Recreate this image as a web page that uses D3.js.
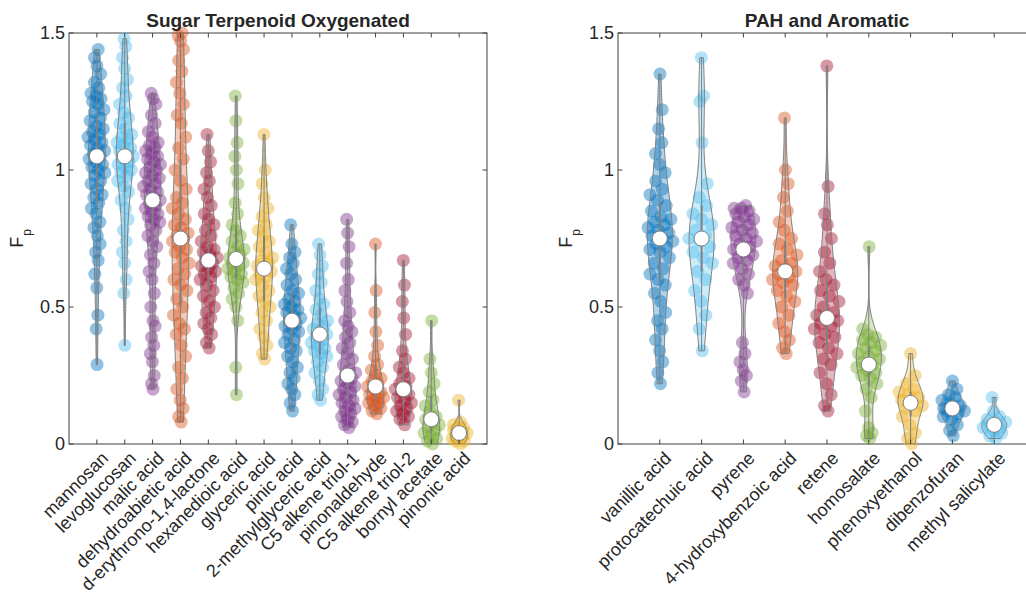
<!DOCTYPE html>
<html>
<head>
<meta charset="utf-8">
<script src="https://cdn.jsdelivr.net/npm/d3@7"></script>
<style>
    body { margin: 0; background: #fff; }
    svg text { font-family: "Liberation Sans", Arial, Helvetica, sans-serif; fill: #262626; }
</style>
</head>
<body>
<svg id="chart" width="1026" height="601"></svg>
<script>
// ===== DATA =====
const sugarNames = ['mannosan', 'levoglucosan', 'malic acid', 'dehydroabietic acid', 'd-erythrono-1,4-lactone',
    'hexanedioic acid', 'glyceric acid', 'pinic acid', '2-methylglyceric acid', 'C5 alkene triol-1',
    'pinonaldehyde', 'C5 alkene triol-2', 'bornyl acetate', 'pinonic acid'];

const mannosan = [0.29,0.42,0.47,0.57,0.62,0.67,0.7,0.73,0.76,0.79,0.81,0.84,0.86,0.88,0.9,0.91,0.93,0.95,0.96,0.98,0.99,1.0,1.01,1.02,1.03,1.04,
    1.05,1.06,1.07,1.08,1.09,1.1,1.11,1.12,1.13,1.14,1.15,1.16,1.18,1.19,1.21,1.22,1.24,1.25,1.26,1.27,1.28,1.3,1.32,1.35,1.38,1.41,1.44];
const levoglucosan = [0.36,0.55,0.6,0.66,0.7,0.74,0.78,0.82,0.86,0.89,0.92,0.94,0.96,0.98,0.99,1.0,1.01,1.02,1.03,1.04,
    1.05,1.06,1.07,1.08,1.09,1.1,1.11,1.12,1.13,1.15,1.17,1.19,1.21,1.24,1.27,1.3,1.33,1.37,1.41,1.45,1.48];
const malicAcid = [0.2,0.22,0.25,0.3,0.33,0.36,0.39,0.43,0.45,0.5,0.55,0.6,0.63,0.66,0.69,0.72,0.74,0.76,0.78,0.8,0.81,0.82,0.83,0.84,0.85,0.86,0.87,0.88,
    0.89,0.9,0.91,0.92,0.93,0.94,0.95,0.96,0.97,0.98,0.99,1.0,1.01,1.02,1.03,1.04,1.05,1.06,1.07,1.08,1.09,1.1,1.12,1.14,1.17,1.2,1.24,1.26,1.28];
const dehydroabieticAcid = [0.08,0.1,0.13,0.16,0.2,0.24,0.28,0.32,0.36,0.4,0.42,0.44,0.47,0.5,0.53,0.56,0.58,0.6,0.62,0.64,0.66,0.68,0.7,0.71,0.72,0.74,
    0.75,0.76,0.77,0.79,0.8,0.82,0.84,0.86,0.88,0.9,0.93,0.96,1.0,1.04,1.08,1.12,1.17,1.2,1.24,1.28,1.32,1.36,1.4,1.44,1.47,1.49,1.5];
const erythronoLactone = [0.35,0.37,0.4,0.42,0.44,0.46,0.48,0.5,0.52,0.54,0.56,0.58,0.6,0.61,0.62,0.63,0.64,0.65,0.66,
    0.67,0.68,0.69,0.7,0.71,0.72,0.74,0.76,0.78,0.8,0.82,0.84,0.87,0.9,0.93,0.96,0.99,1.03,1.07,1.13];
const hexanedioicAcid = [0.18,0.28,0.45,0.5,0.53,0.55,0.57,0.59,0.6,0.61,0.62,0.63,0.64,0.65,0.66,0.66,
    0.67,0.68,0.69,0.7,0.71,0.72,0.74,0.76,0.78,0.8,0.84,0.88,0.95,1.0,1.05,1.1,1.18,1.27];
const glycericAcid = [0.31,0.33,0.36,0.39,0.42,0.45,0.48,0.5,0.52,0.54,0.56,0.58,0.6,0.61,0.62,0.63,
    0.64,0.65,0.66,0.67,0.68,0.7,0.72,0.74,0.76,0.78,0.8,0.83,0.86,0.9,0.95,1.0,1.13];
const pinicAcid = [0.12,0.15,0.18,0.2,0.22,0.24,0.26,0.28,0.3,0.32,0.34,0.35,0.37,0.38,0.4,0.41,0.42,0.43,0.44,
    0.45,0.46,0.47,0.48,0.49,0.5,0.51,0.52,0.53,0.55,0.56,0.58,0.6,0.62,0.64,0.66,0.68,0.7,0.73,0.8];
const methylglycericAcid = [0.16,0.18,0.2,0.23,0.26,0.28,0.3,0.32,0.33,0.34,0.35,0.36,0.37,0.38,0.39,
    0.4,0.41,0.42,0.43,0.44,0.45,0.47,0.49,0.51,0.53,0.56,0.59,0.62,0.65,0.69,0.73];
const alkeneTriol1 = [0.06,0.07,0.08,0.09,0.1,0.11,0.12,0.13,0.14,0.15,0.16,0.17,0.18,0.19,0.2,0.21,0.22,0.23,0.24,
    0.25,0.26,0.27,0.29,0.31,0.33,0.35,0.37,0.39,0.41,0.43,0.45,0.48,0.52,0.56,0.6,0.66,0.72,0.77,0.82];
const pinonaldehyde = [0.11,0.12,0.13,0.14,0.15,0.15,0.16,0.17,0.17,0.18,0.19,0.2,
    0.21,0.22,0.23,0.24,0.25,0.27,0.29,0.32,0.36,0.41,0.48,0.56,0.73];
const alkeneTriol2 = [0.07,0.09,0.1,0.11,0.12,0.13,0.14,0.15,0.16,0.17,0.18,0.19,
    0.2,0.21,0.22,0.24,0.26,0.28,0.31,0.34,0.4,0.46,0.52,0.58,0.67];
const bornylAcetate = [0.0,0.01,0.02,0.03,0.04,0.05,0.06,0.07,0.08,0.09,0.1,0.12,0.14,0.16,0.19,0.22,0.26,0.31,0.45];
const pinonicAcid = [0.0,0.01,0.01,0.02,0.02,0.03,0.03,0.04,0.05,0.05,0.06,0.06,0.07,0.08,0.16];

const pahNames = ['vanillic acid', 'protocatechuic acid', 'pyrene', '4-hydroxybenzoic acid', 'retene',
    'homosalate', 'phenoxyethanol', 'dibenzofuran', 'methyl salicylate'];

const vanillicAcid = [0.22,0.26,0.3,0.34,0.38,0.42,0.45,0.48,0.52,0.55,0.58,0.6,0.62,0.64,0.66,0.68,0.7,0.71,0.72,0.73,0.74,
    0.75,0.76,0.77,0.78,0.79,0.8,0.81,0.82,0.83,0.85,0.87,0.89,0.91,0.93,0.96,0.99,1.02,1.06,1.1,1.15,1.22,1.35];
const protocatechuicAcid = [0.34,0.42,0.47,0.52,0.56,0.6,0.63,0.66,0.68,0.7,0.72,0.74,
    0.75,0.76,0.78,0.8,0.82,0.84,0.87,0.9,0.95,1.1,1.25,1.27,1.41];
const pyrene = [0.19,0.23,0.25,0.27,0.3,0.33,0.37,0.55,0.58,0.6,0.62,0.64,0.66,0.67,0.68,0.69,0.7,
    0.71,0.72,0.73,0.74,0.75,0.76,0.77,0.78,0.79,0.8,0.81,0.82,0.83,0.84,0.85,0.86,0.86,0.87];
const hydroxybenzoicAcid = [0.33,0.35,0.38,0.41,0.44,0.47,0.5,0.52,0.54,0.56,0.58,0.59,0.6,0.61,0.62,
    0.63,0.64,0.65,0.66,0.67,0.69,0.71,0.73,0.75,0.78,0.81,0.85,0.9,0.95,1.0,1.19];
const retene = [0.12,0.14,0.18,0.22,0.26,0.29,0.31,0.33,0.35,0.37,0.39,0.4,0.42,0.43,0.44,0.45,
    0.46,0.47,0.48,0.5,0.52,0.54,0.56,0.58,0.6,0.63,0.66,0.7,0.75,0.8,0.84,0.94,1.38];
const homosalate = [0.02,0.03,0.04,0.06,0.12,0.17,0.2,0.22,0.24,0.25,0.26,0.27,0.28,
    0.29,0.3,0.31,0.32,0.33,0.34,0.35,0.36,0.37,0.38,0.39,0.4,0.42,0.72];
const phenoxyethanol = [0.0,0.02,0.04,0.07,0.1,0.12,0.13,0.14,0.15,0.16,0.17,0.18,0.19,0.2,0.22,0.25,0.33];
const dibenzofuran = [0.03,0.05,0.07,0.09,0.1,0.11,0.12,0.12,0.13,0.13,0.14,0.15,0.16,0.17,0.18,0.2,0.23];
const methylSalicylate = [0.02,0.03,0.04,0.05,0.06,0.06,0.07,0.08,0.08,0.09,0.1,0.12,0.17];

const sugarSeries = [mannosan, levoglucosan, malicAcid, dehydroabieticAcid, erythronoLactone, hexanedioicAcid,
    glycericAcid, pinicAcid, methylglycericAcid, alkeneTriol1, pinonaldehyde, alkeneTriol2, bornylAcetate, pinonicAcid];
const pahSeries = [vanillicAcid, protocatechuicAcid, pyrene, hydroxybenzoicAcid, retene,
    homosalate, phenoxyethanol, dibenzofuran, methylSalicylate];

const yTickValues = [0, 0.5, 1, 1.5];
const yTickLabels = ['0', '0.5', '1', '1.5'];

// MATLAB default colour order (first seven)
const palette = ['#0072BD', '#4DBEEE', '#7E2F8E', '#D95319', '#A2142F', '#77AC30', '#EDB120'];


// ===== LAYOUT =====
const TOP = 33, BOTTOM = 444;
const TICK = 4.5;
const EDGE = '#808080';
const AXIS = '#404040';

const svg = d3.select('#chart');

const panels = [
    { title: 'Sugar Terpenoid Oxygenated', names: sugarNames, series: sugarSeries, left: 69, right: 487 },
    { title: 'PAH and Aromatic', names: pahNames, series: pahSeries, left: 618, right: 1036 },
];


// ===== VIOLIN HELPERS =====
function bandwidth(vals) {
    const med = d3.median(vals);
    let sig = d3.median(vals, v => Math.abs(v - med)) / 0.6745;
    if (!sig) sig = d3.deviation(vals) || 0.01;
    return sig * Math.pow(4 / (3 * vals.length), 0.2);
}

function kde(vals, bw) {
    return t => d3.sum(vals, v => Math.exp(-0.5 * ((t - v) / bw) ** 2));
}


// ===== DRAW =====
panels.forEach((p, pi) => {
    const g = svg.append('g');
    const x = d3.scaleLinear().domain([0, p.names.length + 1]).range([p.left, p.right]);
    const y = d3.scaleLinear().domain([0, 1.5]).range([BOTTOM, TOP]);
    const halfW = 0.3 * (x(1) - x(0));

    const clipId = 'clip' + pi;
    svg.append('clipPath').attr('id', clipId)
        .append('rect')
        .attr('x', p.left).attr('y', TOP)
        .attr('width', p.right - p.left).attr('height', BOTTOM - TOP);

    // Box frame
    g.append('rect')
        .attr('x', p.left).attr('y', TOP)
        .attr('width', p.right - p.left).attr('height', BOTTOM - TOP)
        .attr('fill', 'none')
        .attr('stroke', AXIS)
        .attr('stroke-width', 1);

    p.series.forEach((vals, i) => {
        const pos = x(i + 1);
        const color = palette[i % palette.length];
        const sorted = vals.slice().sort(d3.ascending);
        const bw = bandwidth(sorted);
        const dens = kde(sorted, bw);
        const lo = sorted[0], hi = sorted[sorted.length - 1];
        const grid = d3.range(0, 101).map(k => lo + (hi - lo) * k / 100);
        const dmax = d3.max(grid, dens);
        const widthAt = t => dens(t) / dmax * halfW;

        // Data points, jittered inside the violin
        g.append('g').selectAll('circle')
            .data(vals)
            .enter().append('circle')
            .attr('cx', (v, k) => pos + (((k + 1) * 0.618034) % 1 * 2 - 1) * widthAt(v) * 1.1)
            .attr('cy', v => y(v))
            .attr('r', 6.5)
            .attr('fill', color)
            .attr('fill-opacity', 0.44);

        // Violin outline
        const area = d3.area()
            .y(t => y(t))
            .x0(t => pos - widthAt(t))
            .x1(t => pos + widthAt(t));

        g.append('path')
            .datum(grid)
            .attr('clip-path', `url(#${clipId})`)
            .attr('d', area)
            .attr('fill', color)
            .attr('fill-opacity', 0.3)
            .attr('stroke', EDGE)
            .attr('stroke-width', 1);

        // Whisker and box
        g.append('line')
            .attr('clip-path', `url(#${clipId})`)
            .attr('x1', pos).attr('x2', pos)
            .attr('y1', y(lo)).attr('y2', y(hi))
            .attr('stroke', EDGE)
            .attr('stroke-width', 1);

        g.append('line')
            .attr('x1', pos).attr('x2', pos)
            .attr('y1', y(d3.quantile(sorted, 0.25))).attr('y2', y(d3.quantile(sorted, 0.75)))
            .attr('stroke', EDGE)
            .attr('stroke-width', 2);

        // Median
        g.append('circle')
            .attr('cx', pos)
            .attr('cy', y(d3.median(sorted)))
            .attr('r', 7.5)
            .attr('fill', '#fff')
            .attr('stroke', EDGE)
            .attr('stroke-width', 1);
    });

    // X ticks (bottom + top, pointing inward)
    const xTicks = d3.range(1, p.names.length + 1);
    g.selectAll('.xt-b').data(xTicks).enter().append('line')
        .attr('x1', d => x(d)).attr('x2', d => x(d))
        .attr('y1', BOTTOM).attr('y2', BOTTOM - TICK)
        .attr('stroke', AXIS);
    g.selectAll('.xt-t').data(xTicks).enter().append('line')
        .attr('x1', d => x(d)).attr('x2', d => x(d))
        .attr('y1', TOP).attr('y2', TOP + TICK)
        .attr('stroke', AXIS);

    // Y ticks (left + right)
    g.selectAll('.yt-l').data(yTickValues).enter().append('line')
        .attr('x1', p.left).attr('x2', p.left + TICK)
        .attr('y1', d => y(d)).attr('y2', d => y(d))
        .attr('stroke', AXIS);
    g.selectAll('.yt-r').data(yTickValues).enter().append('line')
        .attr('x1', p.right).attr('x2', p.right - TICK)
        .attr('y1', d => y(d)).attr('y2', d => y(d))
        .attr('stroke', AXIS);

    // Y tick labels
    g.selectAll('.yl').data(yTickValues).enter().append('text')
        .attr('x', p.left - 4)
        .attr('y', d => y(d))
        .attr('dy', '0.35em')
        .attr('text-anchor', 'end')
        .attr('font-size', 18)
        .text((d, k) => yTickLabels[k]);

    // X tick labels, rotated 45 degrees
    g.selectAll('.xl').data(p.names).enter().append('text')
        .attr('transform', (d, k) => `translate(${x(k + 1) + 8},${BOTTOM + 11}) rotate(-45)`)
        .attr('dy', '0.35em')
        .attr('text-anchor', 'end')
        .attr('font-size', 18)
        .text(d => d);

    // Title
    g.append('text')
        .attr('x', (p.left + p.right) / 2)
        .attr('y', 27)
        .attr('text-anchor', 'middle')
        .attr('font-size', 19)
        .attr('font-weight', 'bold')
        .attr('fill', '#000')
        .text(p.title);

    // Y label: F with subscript p
    const yl = g.append('text')
        .attr('transform', `translate(${p.left - 46},${(TOP + BOTTOM) / 2}) rotate(-90)`)
        .attr('text-anchor', 'middle')
        .attr('font-size', 18);
    yl.append('tspan').text('F');
    yl.append('tspan').attr('font-size', 12).attr('dy', 8).attr('dx', 1).text('p');
});
</script>
</body>
</html>
